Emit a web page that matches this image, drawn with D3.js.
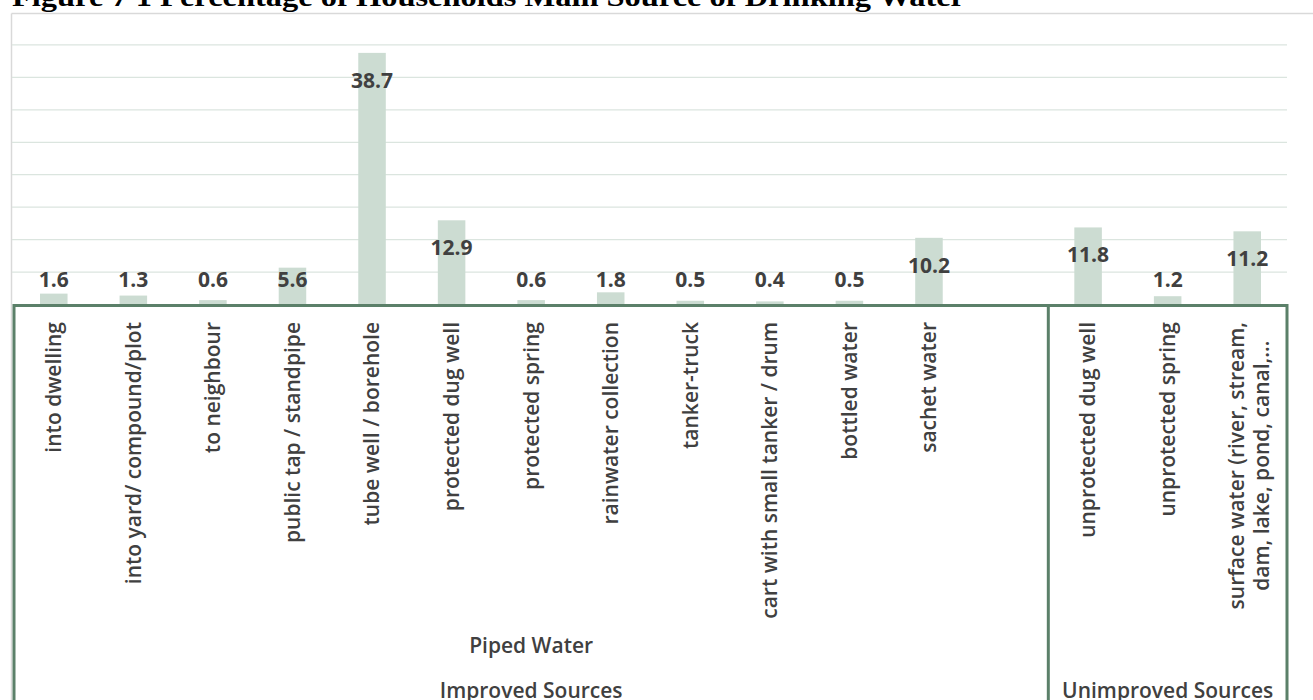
<!DOCTYPE html>
<html>
<head>
<meta charset="utf-8">
<script src="https://cdn.jsdelivr.net/npm/d3@7"></script>
<style>
  html, body { margin: 0; padding: 0; background: #ffffff; }
  svg { display: block; }
</style>
</head>
<body>
<svg id="chart" width="1313" height="700"></svg>
<script>
// ---- data ----
const title = "Figure 7 1 Percentage of Households Main Source of Drinking Water";
const categories = [
  "into dwelling", "into yard/ compound/plot", "to neighbour", "public tap / standpipe",
  "tube well / borehole", "protected dug well", "protected spring", "rainwater collection",
  "tanker-truck", "cart with small tanker / drum", "bottled water", "sachet water", "",
  "unprotected dug well", "unprotected spring", "surface water (river, stream,|dam, lake, pond, canal,…"
];
const values = [1.6, 1.3, 0.6, 5.6, 38.7, 12.9, 0.6, 1.8, 0.5, 0.4, 0.5, 10.2, null, 11.8, 1.2, 11.2];
const valueLabels = ["1.6", "1.3", "0.6", "5.6", "38.7", "12.9", "0.6", "1.8", "0.5", "0.4", "0.5", "10.2", "", "11.8", "1.2", "11.2"];
const subGroups = [{ name: "Piped Water", start: 0, end: 12 }];
const mainGroups = [
  { name: "Improved Sources", start: 0, end: 12 },
  { name: "Unimproved Sources", start: 13, end: 15 }
];
const gridTicks = [5, 10, 15, 20, 25, 30, 35, 40];

// ---- layout ----
const svg = d3.select("#chart");
const plotLeft = 14, plotRight = 1287, plotTop = 12, plotBottom = 304;

const x = d3.scaleBand()
  .domain(d3.range(categories.length))
  .range([plotLeft, plotRight])
  .paddingInner(0.654)
  .paddingOuter(0.327);
const y = d3.scaleLinear().domain([0, 45]).range([plotBottom, plotTop]);

const frameCol = "#d9d9d9";
const gridCol = "#dbe5df";
const barCol = "#ccdcd2";
const boxCol = "#5b8069";
const textCol = "#404040";
const sans = "'Open Sans', 'Noto Sans', sans-serif";

// outer chart frame (light gray)
svg.append("line").attr("x1", 11.5).attr("x2", 1313).attr("y1", 13.5).attr("y2", 13.5)
  .attr("stroke", frameCol).attr("stroke-width", 1.5);
svg.append("line").attr("x1", 11.5).attr("x2", 11.5).attr("y1", 13.5).attr("y2", 700)
  .attr("stroke", frameCol).attr("stroke-width", 1.5);

// title
svg.append("text")
  .attr("x", 12).attr("y", 6)
  .attr("font-family", "'Liberation Serif', 'DejaVu Serif', serif")
  .attr("font-weight", "bold")
  .attr("font-size", 27)
  .attr("fill", "#000")
  .attr("textLength", 953)
  .attr("lengthAdjust", "spacingAndGlyphs")
  .text(title);

// gridlines
const yAxis = d3.axisLeft(y).tickValues(gridTicks).tickSize(-(plotRight - 12)).tickFormat("");
const gAxis = svg.append("g").attr("transform", `translate(12,0)`).call(yAxis);
gAxis.select(".domain").remove();
gAxis.selectAll(".tick line").attr("stroke", gridCol).attr("stroke-width", 1.3);

// bars
const idx = d3.range(categories.length).filter(i => values[i] != null);
svg.append("g").selectAll("rect").data(idx).join("rect")
  .attr("x", i => x(i))
  .attr("width", x.bandwidth())
  .attr("y", i => y(values[i]))
  .attr("height", i => y(0) - y(values[i]))
  .attr("fill", barCol);

// data labels
svg.append("g").selectAll("text").data(idx).join("text")
  .attr("x", i => x(i) + x.bandwidth() / 2)
  .attr("y", i => Math.min(y(values[i]) + 35, y(0) - 17))
  .attr("text-anchor", "middle")
  .attr("font-family", sans)
  .attr("font-weight", "bold")
  .attr("font-size", 21)
  .attr("fill", textCol)
  .text(i => valueLabels[i]);

// category labels (rotated)
const labelTop = 322;
const catFont = 21;
const catG = svg.append("g");
categories.forEach((c, i) => {
  if (!c) return;
  const cx = x(i) + x.bandwidth() / 2;
  const lines = c.split("|");
  if (lines.length === 1) {
    catG.append("text")
      .attr("transform", `translate(${cx},${labelTop}) rotate(-90)`)
      .attr("text-anchor", "end")
      .attr("dy", "0.35em")
      .attr("font-family", sans)
      .attr("font-weight", 600)
      .attr("font-size", catFont)
      .attr("fill", textCol)
      .text(c);
  } else {
    const t = catG.append("text")
      .attr("font-family", sans)
      .attr("font-weight", 600)
      .attr("font-size", catFont)
      .attr("fill", textCol);
    const spans = lines.map((ln, k) => t.append("tspan")
      .attr("x", 0)
      .attr("y", (k - (lines.length - 1) / 2) * 25)
      .attr("dy", "0.35em")
      .text(ln));
    const maxLen = d3.max(spans, s => s.node().getComputedTextLength());
    t.attr("text-anchor", "middle")
      .attr("transform", `translate(${cx + 2},${labelTop + maxLen / 2}) rotate(-90)`);
  }
});

// grouping box
const edge = k => plotLeft + k * x.step();
const boxG = svg.append("g").attr("stroke", boxCol).attr("stroke-width", 3).attr("fill", "none");
boxG.append("line").attr("x1", edge(0)).attr("x2", edge(categories.length)).attr("y1", 305.5).attr("y2", 305.5);
const bounds = Array.from(new Set(mainGroups.flatMap(g => [g.start, g.end + 1])));
bounds.forEach(b => {
  boxG.append("line").attr("x1", edge(b)).attr("x2", edge(b)).attr("y1", 304).attr("y2", 700);
});

// group labels
subGroups.forEach(g => {
  svg.append("text")
    .attr("x", (edge(g.start) + edge(g.end + 1)) / 2)
    .attr("y", 653)
    .attr("text-anchor", "middle")
    .attr("font-family", sans)
    .attr("font-weight", 600)
    .attr("font-size", 21)
    .attr("fill", textCol)
    .text(g.name);
});
mainGroups.forEach(g => {
  svg.append("text")
    .attr("x", (edge(g.start) + edge(g.end + 1)) / 2)
    .attr("y", 698)
    .attr("text-anchor", "middle")
    .attr("font-family", sans)
    .attr("font-weight", 600)
    .attr("font-size", 21)
    .attr("fill", textCol)
    .text(g.name);
});
</script>
</body>
</html>
